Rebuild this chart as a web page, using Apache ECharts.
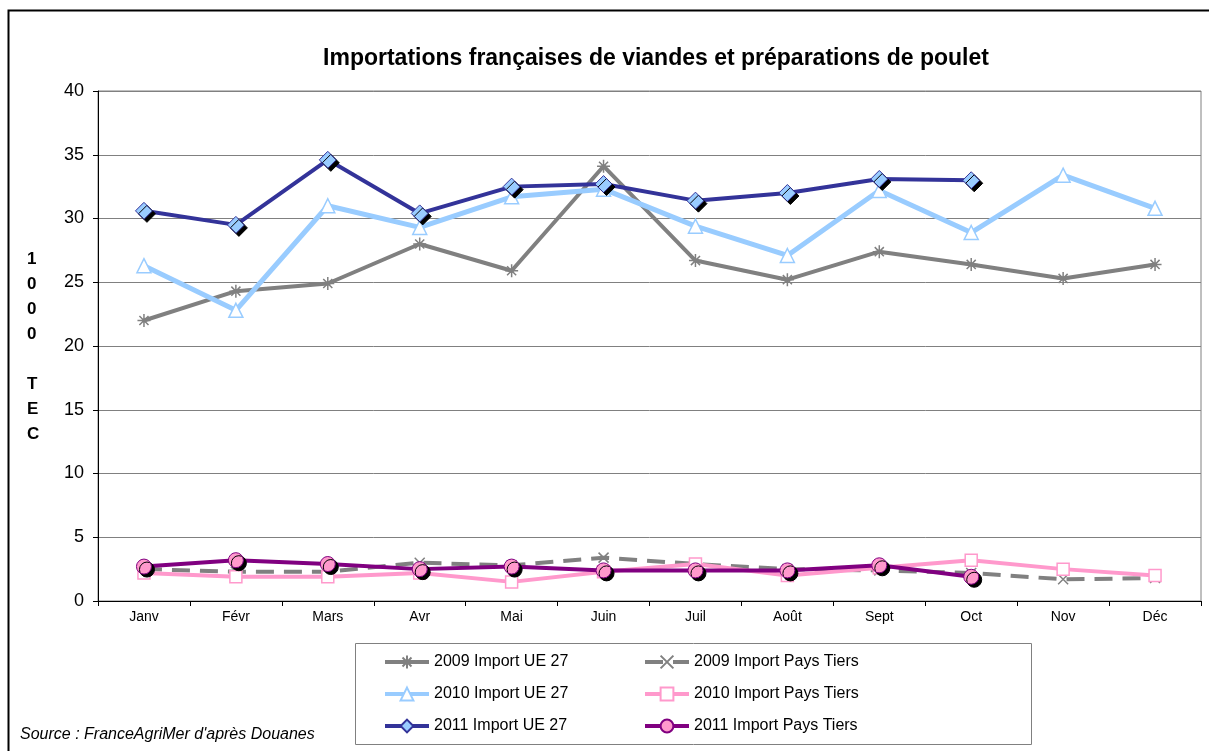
<!DOCTYPE html>
<html lang="fr">
<head>
    <meta charset="UTF-8">
    <title>Importations poulet</title>
    <style>
        html, body { margin: 0; padding: 0; background: #fff; }
    </style>
</head>
<body>
<div id="echart" style="width: 1209px; height: 751px;"></div>

<script src="https://cdn.jsdelivr.net/npm/echarts@6/dist/echarts.min.js"></script>
<script>
    // mois
    var months = ['Janv', 'Févr', 'Mars', 'Avr', 'Mai', 'Juin', 'Juil', 'Août', 'Sept', 'Oct', 'Nov', 'Déc'];

    // import UE 27 (1000 TEC)
    var ue2009 = [22.0, 24.3, 24.9, 28.0, 25.9, 34.1, 26.7, 25.2, 27.4, 26.4, 25.3, 26.4];
    var ue2010 = [26.3, 22.8, 31.0, 29.3, 31.7, 32.3, 29.4, 27.1, 32.2, 28.9, 33.4, 30.8];
    var ue2011 = [30.6, 29.5, 34.6, 30.4, 32.5, 32.7, 31.4, 32.0, 33.1, 33.0, null, null];

    // import pays tiers
    var pt2009 = [2.5, 2.3, 2.3, 3.0, 2.8, 3.4, 2.9, 2.5, 2.4, 2.2, 1.7, 1.8];
    var pt2010 = [2.2, 1.9, 1.9, 2.2, 1.5, 2.3, 2.9, 2.0, 2.6, 3.2, 2.5, 2.0];
    var pt2011 = [2.7, 3.2, 2.9, 2.5, 2.7, 2.4, 2.4, 2.4, 2.8, 1.9, null, null];

    var yTicks = [0, 5, 10, 15, 20, 25, 30, 35, 40];

    var starPath = 'path://M0,5L10,5M5,0L5,10M1.5,1.5L8.5,8.5M8.5,1.5L1.5,8.5';
    var crossPath = 'path://M0,0L10,10M10,0L0,10';

    var dom = document.getElementById("echart");
    var myChart = echarts.init(dom);
    var option = null;

    var shadow = {shadowColor: '#000', shadowBlur: 0, shadowOffsetX: 3, shadowOffsetY: 3};

    option = {
        animation: false,
        title: {
            text: 'Importations françaises de viandes et préparations de poulet',
            left: 651,
            textAlign: 'center',
            top: 42,
            textStyle: {fontFamily: 'Liberation Sans', fontSize: 23, fontWeight: 'bold', color: '#000'}
        },
        grid: {
            left: 98, right: 8, top: 91, bottom: 150,
            show: true, borderColor: '#808080', borderWidth: 1
        },
        legend: [
            {
                orient: 'vertical', left: 383, top: 653, padding: 0,
                itemWidth: 44, itemHeight: 16, itemGap: 14,
                lineStyle: {width: 4},
                textStyle: {fontFamily: 'Liberation Sans', fontSize: 16, color: '#000', lineHeight: 18},
                data: ['2009 Import UE 27', '2010 Import UE 27', '2011 Import UE 27']
            },
            {
                orient: 'vertical', left: 643, top: 653, padding: 0,
                itemWidth: 44, itemHeight: 16, itemGap: 14,
                lineStyle: {width: 4},
                textStyle: {fontFamily: 'Liberation Sans', fontSize: 16, color: '#000', lineHeight: 18},
                data: ['2009 Import Pays Tiers', '2010 Import Pays Tiers', '2011 Import Pays Tiers']
            }
        ],
        graphic: [
            // cadre du graphique
            {type: 'rect', shape: {x: 8.5, y: 10.5, width: 1220, height: 760},
                style: {fill: 'none', stroke: '#000', lineWidth: 2}, silent: true},
            // cadre de la légende
            {type: 'rect', shape: {x: 355.5, y: 643.5, width: 676, height: 101},
                style: {fill: 'none', stroke: '#808080', lineWidth: 1}, silent: true},
            {type: 'text', left: 27, top: 247,
                style: {text: '1\n0\n0\n0\n\nT\nE\nC', fontFamily: 'Liberation Sans', fontSize: 17,
                    fontWeight: 'bold', lineHeight: 25, fill: '#000'}},
            {type: 'text', left: 20, top: 727,
                style: {text: "Source : FranceAgriMer d'après Douanes", fontFamily: 'Liberation Sans',
                    fontSize: 16, fontStyle: 'italic', fill: '#000'}}
        ],
        xAxis: {
            type: 'category',
            data: months,
            boundaryGap: true,
            axisLine: {lineStyle: {color: '#000', width: 1}},
            axisTick: {show: true, length: 5, lineStyle: {color: '#000'}},
            axisLabel: {fontFamily: 'Liberation Sans', fontSize: 14, color: '#000', margin: 9}
        },
        yAxis: {
            type: 'value',
            min: yTicks[0],
            max: yTicks[yTicks.length - 1],
            interval: 5,
            axisLine: {show: true, lineStyle: {color: '#000', width: 1}},
            axisTick: {show: true, length: 5, lineStyle: {color: '#000'}},
            axisLabel: {fontFamily: 'Liberation Sans', fontSize: 18, color: '#000', margin: 14},
            splitLine: {lineStyle: {color: '#808080', width: 1}}
        },
        series: [
            {
                name: '2009 Import UE 27', type: 'line', data: ue2009,
                symbol: starPath, symbolSize: 13, symbolKeepAspect: true,
                lineStyle: {color: '#808080', width: 4},
                itemStyle: {color: '#808080', borderColor: '#808080', borderWidth: 1.5}
            },
            {
                name: '2010 Import UE 27', type: 'line', data: ue2010,
                symbol: 'triangle', symbolSize: 14,
                lineStyle: {color: '#99ccff', width: 5},
                itemStyle: {color: '#fff', borderColor: '#99ccff', borderWidth: 1.5}
            },
            {
                name: '2011 Import UE 27', type: 'line', data: ue2011,
                symbol: 'diamond', symbolSize: 17,
                lineStyle: {color: '#333399', width: 4},
                itemStyle: Object.assign({color: '#99ccff', borderColor: '#333399', borderWidth: 1}, shadow)
            },
            {
                name: '2009 Import Pays Tiers', type: 'line', data: pt2009,
                symbol: crossPath, symbolSize: 10, symbolKeepAspect: true,
                lineStyle: {color: '#808080', width: 4, type: [18, 10]},
                itemStyle: {color: '#808080', borderColor: '#808080', borderWidth: 1.5}
            },
            {
                name: '2010 Import Pays Tiers', type: 'line', data: pt2010,
                symbol: 'rect', symbolSize: 12,
                lineStyle: {color: '#ff99cc', width: 4},
                itemStyle: {color: '#fff', borderColor: '#ff99cc', borderWidth: 1.5}
            },
            {
                name: '2011 Import Pays Tiers', type: 'line', data: pt2011,
                symbol: 'circle', symbolSize: 15,
                lineStyle: {color: '#800080', width: 4},
                itemStyle: Object.assign({color: '#ff99cc', borderColor: '#800080', borderWidth: 1}, shadow)
            }
        ]
    };
    if (option && typeof option === "object") {
        myChart.setOption(option, true);
    }
</script>
</body>
</html>
